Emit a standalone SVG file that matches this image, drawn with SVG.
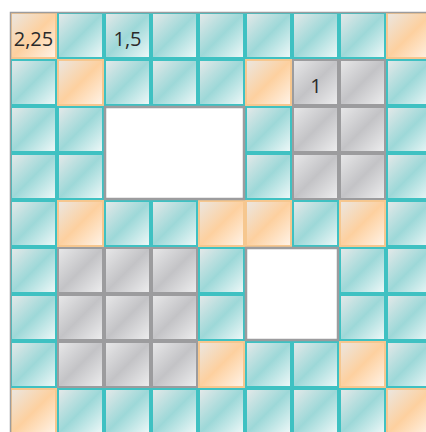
<svg xmlns="http://www.w3.org/2000/svg" width="426" height="432" viewBox="0 0 426 432">
<defs>
<linearGradient id="gt" x1="0" y1="0" x2="1" y2="1">
<stop offset="0" stop-color="#e6e9e9"/><stop offset="0.5" stop-color="#9dd8d8"/><stop offset="1" stop-color="#f0f9f9"/>
</linearGradient>
<linearGradient id="go" x1="0" y1="0" x2="1" y2="1">
<stop offset="0" stop-color="#ebe7e2"/><stop offset="0.5" stop-color="#fdd09f"/><stop offset="1" stop-color="#fff4e9"/>
</linearGradient>
<linearGradient id="gg" x1="0" y1="0" x2="1" y2="1">
<stop offset="0" stop-color="#e8e8e9"/><stop offset="0.5" stop-color="#c3c3c6"/><stop offset="1" stop-color="#eeeeef"/>
</linearGradient>
<style>
.t{fill:url(#gt);stroke:#3fc1c2;stroke-width:2}
.o{fill:url(#go);stroke:#f6c78f;stroke-width:2}
.g{fill:url(#gg);stroke:#9c9c9e;stroke-width:2}
.w{fill:#fff;stroke:#9c9c9e;stroke-width:2.5}
.lbl{font-family:"Open Sans","Noto Sans",sans-serif;font-size:20px;fill:#2a2a2a;text-anchor:middle}
</style>
</defs>
<rect width="426" height="432" fill="#fff"/>
<g id="cells">
<!-- row 0 -->
<rect class="o" x="11" y="13" width="45" height="45"/>
<rect class="t" x="58" y="13" width="45" height="45"/>
<rect class="t" x="105" y="13" width="45" height="45"/>
<rect class="t" x="152" y="13" width="45" height="45"/>
<rect class="t" x="199" y="13" width="45" height="45"/>
<rect class="t" x="246" y="13" width="45" height="45"/>
<rect class="t" x="293" y="13" width="45" height="45"/>
<rect class="t" x="340" y="13" width="45" height="45"/>
<rect class="o" x="387" y="13" width="45" height="45"/>
<!-- row 1 -->
<rect class="t" x="11" y="60" width="45" height="45"/>
<rect class="o" x="58" y="60" width="45" height="45"/>
<rect class="t" x="105" y="60" width="45" height="45"/>
<rect class="t" x="152" y="60" width="45" height="45"/>
<rect class="t" x="199" y="60" width="45" height="45"/>
<rect class="o" x="246" y="60" width="45" height="45"/>
<rect class="g" x="293" y="60" width="45" height="45"/>
<rect class="g" x="340" y="60" width="45" height="45"/>
<rect class="t" x="387" y="60" width="45" height="45"/>
<!-- row 2 -->
<rect class="t" x="11" y="107" width="45" height="45"/>
<rect class="t" x="58" y="107" width="45" height="45"/>
<rect class="t" x="246" y="107" width="45" height="45"/>
<rect class="g" x="293" y="107" width="45" height="45"/>
<rect class="g" x="340" y="107" width="45" height="45"/>
<rect class="t" x="387" y="107" width="45" height="45"/>
<!-- row 3 -->
<rect class="t" x="11" y="154" width="45" height="45"/>
<rect class="t" x="58" y="154" width="45" height="45"/>
<rect class="t" x="246" y="154" width="45" height="45"/>
<rect class="g" x="293" y="154" width="45" height="45"/>
<rect class="g" x="340" y="154" width="45" height="45"/>
<rect class="t" x="387" y="154" width="45" height="45"/>
<!-- row 4 -->
<rect class="t" x="11" y="201" width="45" height="45"/>
<rect class="o" x="58" y="201" width="45" height="45"/>
<rect class="t" x="105" y="201" width="45" height="45"/>
<rect class="t" x="152" y="201" width="45" height="45"/>
<rect class="o" x="199" y="201" width="45" height="45"/>
<rect class="o" x="246" y="201" width="45" height="45"/>
<rect class="t" x="293" y="201" width="45" height="45"/>
<rect class="o" x="340" y="201" width="45" height="45"/>
<rect class="t" x="387" y="201" width="45" height="45"/>
<!-- row 5 -->
<rect class="t" x="11" y="248" width="45" height="45"/>
<rect class="g" x="58" y="248" width="45" height="45"/>
<rect class="g" x="105" y="248" width="45" height="45"/>
<rect class="g" x="152" y="248" width="45" height="45"/>
<rect class="t" x="199" y="248" width="45" height="45"/>
<rect class="t" x="340" y="248" width="45" height="45"/>
<rect class="t" x="387" y="248" width="45" height="45"/>
<!-- row 6 -->
<rect class="t" x="11" y="295" width="45" height="45"/>
<rect class="g" x="58" y="295" width="45" height="45"/>
<rect class="g" x="105" y="295" width="45" height="45"/>
<rect class="g" x="152" y="295" width="45" height="45"/>
<rect class="t" x="199" y="295" width="45" height="45"/>
<rect class="t" x="340" y="295" width="45" height="45"/>
<rect class="t" x="387" y="295" width="45" height="45"/>
<!-- row 7 -->
<rect class="t" x="11" y="342" width="45" height="45"/>
<rect class="g" x="58" y="342" width="45" height="45"/>
<rect class="g" x="105" y="342" width="45" height="45"/>
<rect class="g" x="152" y="342" width="45" height="45"/>
<rect class="o" x="199" y="342" width="45" height="45"/>
<rect class="t" x="246" y="342" width="45" height="45"/>
<rect class="t" x="293" y="342" width="45" height="45"/>
<rect class="o" x="340" y="342" width="45" height="45"/>
<rect class="t" x="387" y="342" width="45" height="45"/>
<!-- row 8 -->
<rect class="o" x="11" y="389" width="45" height="45"/>
<rect class="t" x="58" y="389" width="45" height="45"/>
<rect class="t" x="105" y="389" width="45" height="45"/>
<rect class="t" x="152" y="389" width="45" height="45"/>
<rect class="t" x="199" y="389" width="45" height="45"/>
<rect class="t" x="246" y="389" width="45" height="45"/>
<rect class="t" x="293" y="389" width="45" height="45"/>
<rect class="t" x="340" y="389" width="45" height="45"/>
<rect class="o" x="387" y="389" width="45" height="45"/>
</g>
<g id="holes">
<rect class="w" x="105" y="107" width="139" height="92"/>
<rect class="w" x="246" y="248" width="92" height="92"/>
</g>
<rect x="10.5" y="12.5" width="480" height="480" fill="none" stroke="#9c9c9e" stroke-width="1.5"/>
<g id="labels">
<text class="lbl" x="33.5" y="46">2,25</text>
<text class="lbl" x="127.5" y="46">1,5</text>
<text class="lbl" x="316" y="93">1</text>
</g>
</svg>
